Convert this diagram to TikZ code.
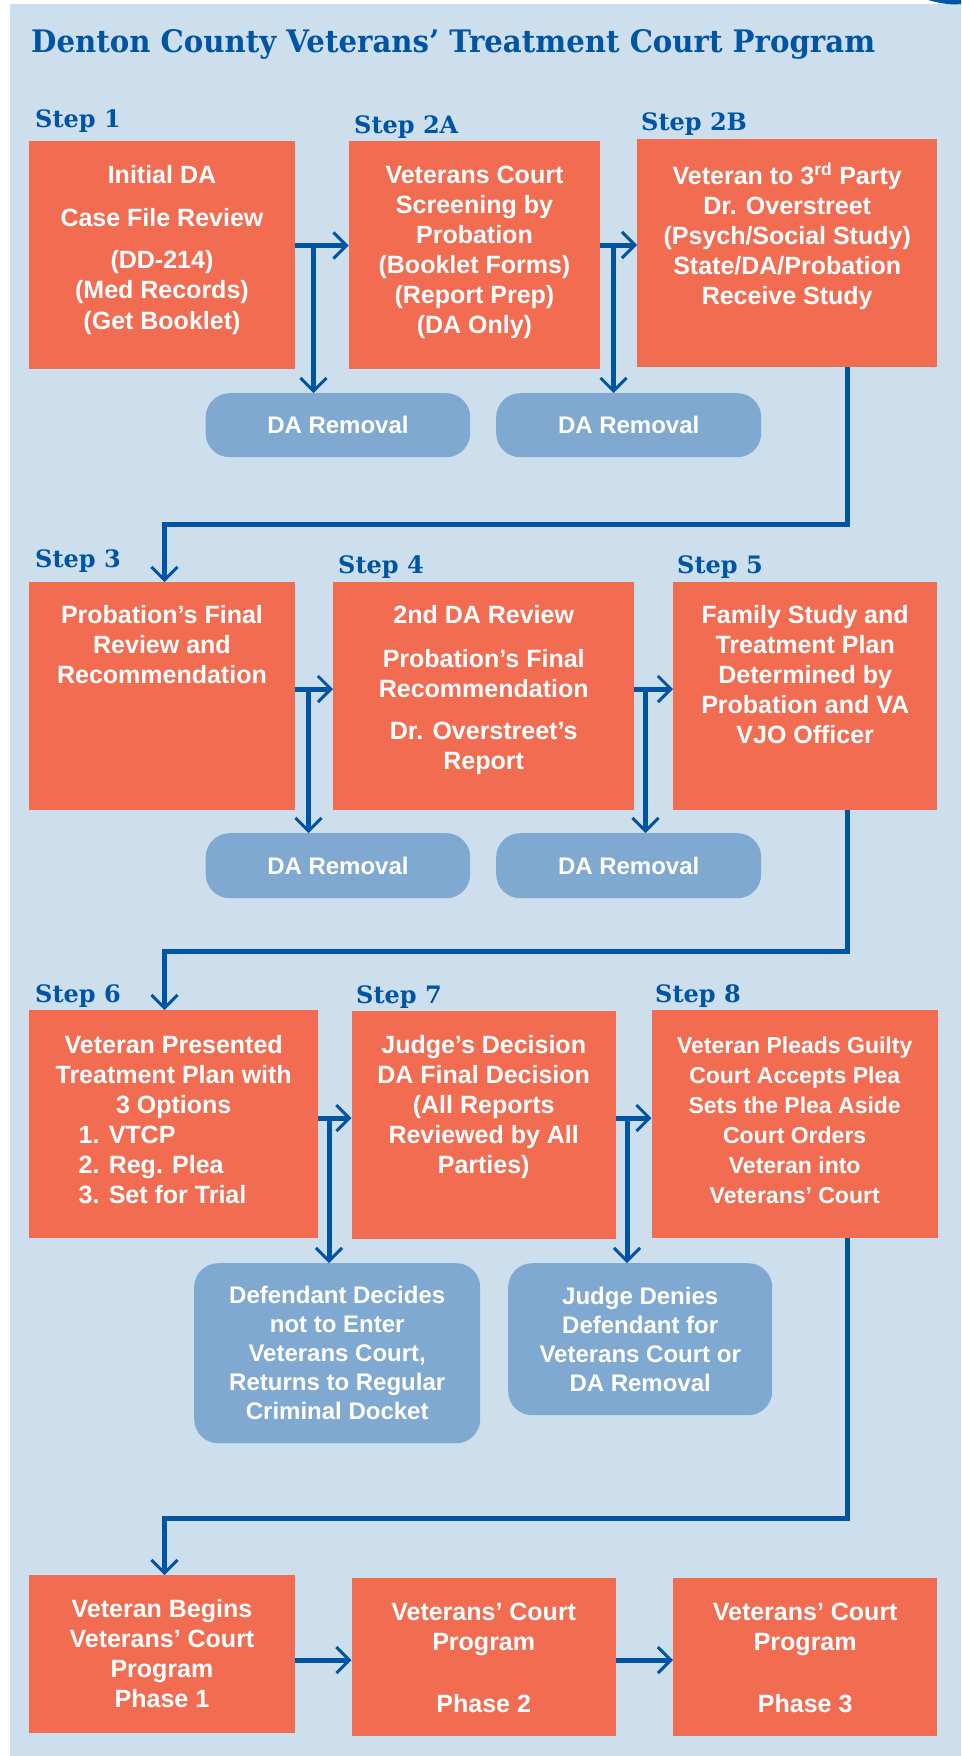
\documentclass[tikz,border=0pt]{standalone}
\usepackage{fontspec}
\setmainfont{Liberation Sans}
\newfontfamily\headfont{DejaVu Serif}
\usetikzlibrary{arrows.meta}
\definecolor{bgblue}{RGB}{205,222,237}
\definecolor{coral}{RGB}{242,108,82}
\definecolor{pillblue}{RGB}{128,169,210}
\definecolor{darkblue}{RGB}{0,84,164}
\newcommand{\topline}{\rule{0pt}{20pt}}

\begin{document}
\begin{tikzpicture}[x=1pt,y=-1pt,
 stepbox/.style={fill=coral,anchor=north west,inner sep=0pt},
 pill/.style={fill=pillblue,rounded corners=24pt,anchor=north west,inner sep=0pt,
  text=white,align=center,font=\bfseries\fontsize{24}{29}\selectfont},
 boxtext/.style={anchor=north,inner sep=0pt,text=white,align=center,
  font=\bfseries\fontsize{25}{30}\selectfont},
 steplabel/.style={anchor=base west,inner sep=0pt,text=darkblue,
  font=\headfont\bfseries\fontsize{24}{28}\selectfont},
 arr/.style={draw=darkblue,line width=5pt,
  -{Straight Barb[length=13pt,width=26pt,line width=3pt]}}]
 \useasboundingbox (0,0) rectangle (961,1756);
 \fill[bgblue] (10,4) rectangle (961,1756);
 \fill[darkblue] (928,0) .. controls (942,4) and (952,5) .. (961,4) -- (961,0) -- cycle;
 \node[anchor=base west,inner sep=0pt,text=darkblue,
  font=\headfont\bfseries\fontsize{31}{36}\selectfont] (title) at (31,52)
  {\scalebox{0.942}[1]{Denton County Veterans’ Treatment Court Program}};

 \node[steplabel] (l1) at (35,127) {Step 1};
 \node[steplabel] (l2a) at (354,133) {Step 2A};
 \node[steplabel] (l2b) at (641,130) {Step 2B};
 \node[steplabel] (l3) at (35,567) {Step 3};
 \node[steplabel] (l4) at (338,573) {Step 4};
 \node[steplabel] (l5) at (677,573) {Step 5};
 \node[steplabel] (l6) at (35,1002) {Step 6};
 \node[steplabel] (l7) at (356,1003) {Step 7};
 \node[steplabel] (l8) at (655,1002) {Step 8};

 \node[stepbox,minimum width=265.5pt,minimum height=228pt] (s1) at (29,141) {};
 \node[stepbox,minimum width=251.5pt,minimum height=228pt] (s2a) at (348.5,141) {};
 \node[stepbox,minimum width=300pt,minimum height=228pt] (s2b) at (637,139) {};
 \node[stepbox,minimum width=265.5pt,minimum height=228pt] (s3) at (29,582) {};
 \node[stepbox,minimum width=301pt,minimum height=228pt] (s4) at (333,582) {};
 \node[stepbox,minimum width=264pt,minimum height=228pt] (s5) at (673,582) {};
 \node[stepbox,minimum width=289pt,minimum height=228pt] (s6) at (29,1010) {};
 \node[stepbox,minimum width=264pt,minimum height=228pt] (s7) at (351.5,1011) {};
 \node[stepbox,minimum width=286pt,minimum height=228pt] (s8) at (651.5,1010) {};
 \node[stepbox,minimum width=265.5pt,minimum height=158pt] (p1) at (29,1575) {};
 \node[stepbox,minimum width=264pt,minimum height=158pt] (p2) at (351.5,1578) {};
 \node[stepbox,minimum width=264pt,minimum height=158pt] (p3) at (673,1578) {};

 \node[boxtext] (s1t) at ([yshift=-22pt]s1.north) {\topline Initial DA\\[13pt] Case File Review\\[12pt]
  (DD-214)\\ (Med Records)\\[1pt] (Get Booklet)};
 \node[boxtext] (s2at) at ([yshift=-22pt]s2a.north) {\topline Veterans Court\\ Screening by\\ Probation\\
  (Booklet Forms)\\ (Report Prep)\\ (DA Only)};
 \node[boxtext] (s2bt) at ([yshift=-24pt]s2b.north) {\topline Veteran to 3\textsuperscript{rd} Party\\
  Dr. Overstreet\\ (Psych/Social Study)\\ State/DA/Probation\\ Receive Study};
 \node[boxtext] (s3t) at ([yshift=-21pt]s3.north) {\topline Probation’s Final\\ Review and\\ Recommendation};
 \node[boxtext] (s4t) at ([yshift=-21pt]s4.north) {\topline 2nd DA Review\\[14pt] Probation’s Final\\
  Recommendation\\[12pt] Dr. Overstreet’s\\ Report};
 \node[boxtext] (s5t) at ([yshift=-21pt]s5.north) {\topline Family Study and\\ Treatment Plan\\
  Determined by\\ Probation and VA\\ VJO Officer};
 \node[boxtext] (s6t) at ([yshift=-23pt]s6.north) {\topline Veteran Presented\\ Treatment Plan with\\
  3 Options\\ \makebox[190pt][l]{1. VTCP}\\ \makebox[190pt][l]{2. Reg. Plea}\\
  \makebox[190pt][l]{3. Set for Trial}};
 \node[boxtext] (s7t) at ([yshift=-22pt]s7.north) {\topline Judge’s Decision\\ DA Final Decision\\
  (All Reports\\ Reviewed by All\\ Parties)};
 \node[boxtext,font=\bfseries\fontsize{23}{30}\selectfont] (s8t) at ([yshift=-23pt]s8.north)
  {\topline Veteran Pleads Guilty\\ Court Accepts Plea\\ Sets the Plea Aside\\ Court Orders\\
  Veteran into\\ Veterans’ Court};
 \node[boxtext] (p1t) at ([yshift=-22pt]p1.north) {\topline Veteran Begins\\ Veterans’ Court\\
  Program\\ Phase 1};
 \node[boxtext] (p2t) at ([yshift=-22pt]p2.north) {\topline Veterans’ Court\\ Program\\[32pt] Phase 2};
 \node[boxtext] (p3t) at ([yshift=-22pt]p3.north) {\topline Veterans’ Court\\ Program\\[32pt] Phase 3};

 \node[pill,minimum width=264.5pt,minimum height=64pt] (r1) at (205.5,393) {DA Removal};
 \node[pill,minimum width=265pt,minimum height=64pt] (r2) at (496,393) {DA Removal};
 \node[pill,minimum width=264.5pt,minimum height=65pt] (r3) at (205.5,833) {DA Removal};
 \node[pill,minimum width=265pt,minimum height=65pt] (r4) at (496,833) {DA Removal};
 \node[pill,minimum width=286pt,minimum height=180pt] (r6) at (194,1263)
  {Defendant Decides\\ not to Enter\\ Veterans Court,\\ Returns to Regular\\ Criminal Docket};
 \node[pill,minimum width=264pt,minimum height=152pt] (r7) at (508,1263)
  {Judge Denies\\ Defendant for\\ Veterans Court or\\ DA Removal};

 \coordinate (j1) at (313.5,245.5);
 \coordinate (j2) at (613.5,245);
 \coordinate (j3) at (308.5,689);
 \coordinate (j4) at (645.5,689);
 \coordinate (j6) at (329,1118);
 \coordinate (j7) at (627,1118);
 \coordinate (j9) at (0,1660);
 \draw[arr] (s1.east |- j1) -- (s2a.west |- j1);
 \draw[arr] (j1) -- (j1 |- r1.north);
 \draw[arr] (s2a.east |- j2) -- (s2b.west |- j2);
 \draw[arr] (j2) -- (j2 |- r2.north);
 \draw[arr] (s3.east |- j3) -- (s4.west |- j3);
 \draw[arr] (j3) -- (j3 |- r3.north);
 \draw[arr] (s4.east |- j4) -- (s5.west |- j4);
 \draw[arr] (j4) -- (j4 |- r4.north);
 \draw[arr] (s6.east |- j6) -- (s7.west |- j6);
 \draw[arr] (j6) -- (j6 |- r6.north);
 \draw[arr] (s7.east |- j7) -- (s8.west |- j7);
 \draw[arr] (j7) -- (j7 |- r7.north);
 \draw[arr] (p1.east |- j9) -- (p2.west |- j9);
 \draw[arr] (p2.east |- j9) -- (p3.west |- j9);

 \coordinate (t1) at (847,524);
 \coordinate (d1) at (164.5,524);
 \coordinate (t2) at (847,951);
 \coordinate (d2) at (164.5,951);
 \coordinate (t3) at (847,1518);
 \coordinate (d3) at (164.5,1518);
 \draw[arr] (s2b.south -| t1) -- (t1) -- (d1) -- (d1 |- s3.north);
 \draw[arr] (s5.south -| t2) -- (t2) -- (d2) -- (d2 |- s6.north);
 \draw[arr] (s8.south -| t3) -- (t3) -- (d3) -- (d3 |- p1.north);
\end{tikzpicture}
\end{document}
